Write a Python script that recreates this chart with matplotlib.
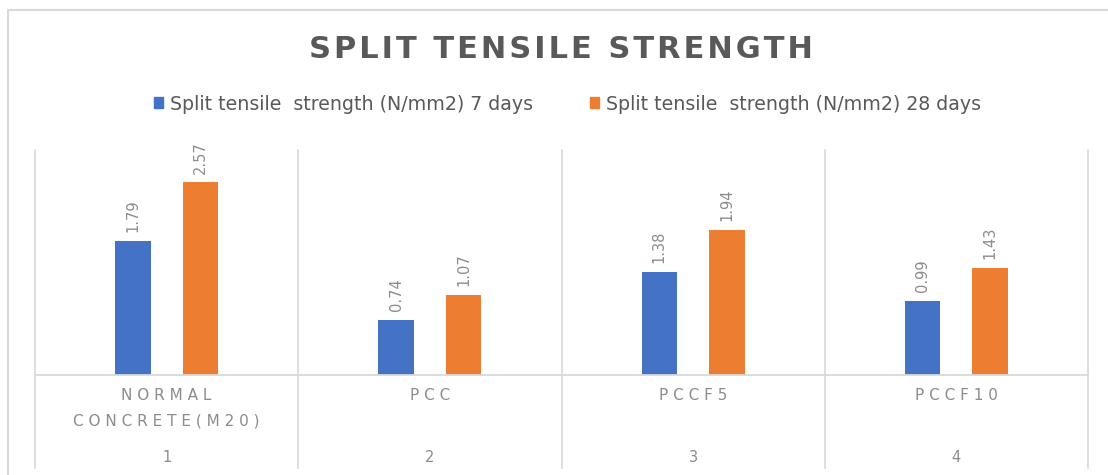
import matplotlib
matplotlib.use("Agg")
import matplotlib.pyplot as plt
from matplotlib.patches import Patch
from matplotlib.lines import Line2D

categories = ["NORMAL\nCONCRETE(M20)", "PCC", "PCCF5", "PCCF10"]
group_numbers = ["1", "2", "3", "4"]
series_names = ["Split tensile  strength (N/mm2) 7 days",
                "Split tensile  strength (N/mm2) 28 days"]
strength_7d = [1.79, 0.74, 1.38, 0.99]
strength_28d = [2.57, 1.07, 1.94, 1.43]

BLUE = "#4472C4"
ORANGE = "#ED7D31"
TEXT = "#595959"
LABEL = "#8c8c8c"
GRID = "#d9d9d9"

plt.rcParams["font.family"] = ["DejaVu Sans"]

W, H = 1108, 475
fig = plt.figure(figsize=(W / 100, H / 100), dpi=100)


def spaced(s, sep=" "):
    return "\n".join(sep.join(line) for line in s.split("\n"))


# outer chart frame: only the top and left edges fall inside the canvas
fig.add_artist(Line2D([8 / W, 8 / W, 1.0], [0.0, 1 - 10 / H, 1 - 10 / H],
                      transform=fig.transFigure, color="#d9d9d9",
                      linewidth=1.5))

ax = fig.add_axes([35 / W, 100 / H, (1088 - 35) / W, 225 / H])
ax.set_xlim(-0.5, 3.5)
ax.set_ylim(0, 3)
for s in ax.spines.values():
    s.set_visible(False)
ax.set_xticks([])
ax.set_yticks([])

off = 0.128
bw = 0.135
x = range(len(categories))
b1 = ax.bar([i - off for i in x], strength_7d, bw, color=BLUE)
b2 = ax.bar([i + off for i in x], strength_28d, bw, color=ORANGE)

for bars, vals in ((b1, strength_7d), (b2, strength_28d)):
    for rect, v in zip(bars, vals):
        ax.annotate(f"{v:.2f}", (rect.get_x() + rect.get_width() / 2, v),
                    xytext=(0, 6), textcoords="offset points",
                    rotation=90, ha="center", va="bottom",
                    fontsize=10.5, color=LABEL)

# baseline and category separators
ax.plot([-0.5, 3.5], [0, 0], color=GRID, linewidth=1.3, clip_on=False)
trans = ax.get_xaxis_transform()
for b in [-0.5, 0.5, 1.5, 2.5, 3.5]:
    ax.add_line(Line2D([b, b], [1.0, -93 / 225], transform=trans,
                       color=GRID, linewidth=1.2, clip_on=False))

for i, (cat, num) in enumerate(zip(categories, group_numbers)):
    ax.text(i, -13 / 225, spaced(cat), transform=trans, ha="center",
            va="top", fontsize=11, color=LABEL, linespacing=1.9)
    ax.text(i, -82 / 225, num, transform=trans, ha="center",
            va="center", fontsize=10.5, color=LABEL)

fig.text(0.506, 1 - 50 / H, spaced("SPLIT TENSILE STRENGTH", "\u200a"),
         ha="center", va="center", fontsize=22, fontweight="bold", color=TEXT)

handles = [Patch(color=BLUE), Patch(color=ORANGE)]
fig.legend(handles, series_names, loc="center", ncol=2,
           bbox_to_anchor=(0.512, 1 - 104 / H), frameon=False,
           fontsize=13.7, labelcolor=TEXT, handlelength=0.5, handleheight=0.5,
           handletextpad=0.35, columnspacing=3.0)

fig.savefig("out.png", dpi=100)
